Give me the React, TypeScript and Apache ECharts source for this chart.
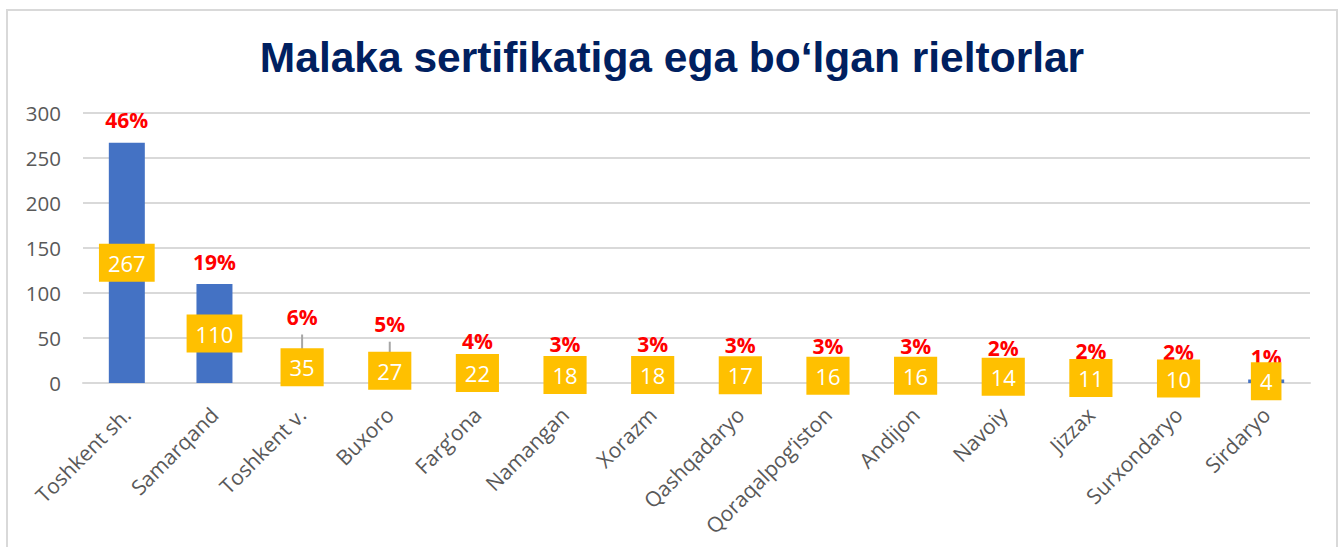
import React, { useEffect, useRef } from "react";
import * as echarts from "echarts";

const TITLE = "Malaka sertifikatiga ega bo‘lgan rieltorlar";
const categories = [
  "Toshkent sh.",
  "Samarqand",
  "Toshkent v.",
  "Buxoro",
  "Farg‘ona",
  "Namangan",
  "Xorazm",
  "Qashqadaryo",
  "Qoraqalpog‘iston",
  "Andijon",
  "Navoiy",
  "Jizzax",
  "Surxondaryo",
  "Sirdaryo",
];
const values = [267, 110, 35, 27, 22, 18, 18, 17, 16, 16, 14, 11, 10, 4];
const percents = ["46%", "19%", "6%", "5%", "4%", "3%", "3%", "3%", "3%", "3%", "2%", "2%", "2%", "1%"];
const leaderIndices = [2, 3];
const yTicks = { min: 0, max: 300, interval: 50 };

const FONT = "'Open Sans', 'Noto Sans', sans-serif";

export default function App() {
  const ref = useRef<HTMLDivElement>(null);
  useEffect(() => {
    if (!ref.current) return;
    const chart = echarts.init(ref.current, null, { renderer: "svg" });
    const pctData = values.map((v, i) => ({
      value: v,
      label: { distance: leaderIndices.includes(i) ? 24 : 12 },
    }));
    chart.setOption({
      animation: false,
      backgroundColor: "#ffffff",
      title: {
        text: TITLE,
        left: "center",
        top: 31,
        textStyle: {
          fontFamily: "'Liberation Sans', Arial, sans-serif",
          fontWeight: "bold",
          fontSize: 42.5,
          color: "#002060",
        },
      },
      graphic: [
        {
          type: "rect",
          shape: { x: 7, y: 10, width: 1330, height: 560 },
          style: { fill: "none", stroke: "#d9d9d9", lineWidth: 2 },
          silent: true,
        },
      ],
      grid: { left: 83, right: 34, top: 113, bottom: 164, containLabel: false },
      xAxis: {
        type: "category",
        data: categories,
        axisLine: { lineStyle: { color: "#d9d9d9", width: 2 } },
        axisTick: { show: false },
        axisLabel: {
          rotate: 45,
          interval: 0,
          margin: 28,
          color: "#595959",
          fontSize: 21,
          fontFamily: FONT,
        },
      },
      yAxis: {
        type: "value",
        min: yTicks.min,
        max: yTicks.max,
        interval: yTicks.interval,
        axisLine: { show: false },
        axisTick: { show: false },
        splitLine: { lineStyle: { color: "#d9d9d9", width: 2 } },
        axisLabel: {
          margin: 22,
          color: "#595959",
          fontSize: 20.5,
          fontFamily: FONT,
        },
      },
      series: [
        {
          type: "bar",
          data: pctData,
          barWidth: 36,
          itemStyle: { color: "#4472C4" },
          label: {
            show: true,
            position: "top",
            formatter: (p: any) => percents[p.dataIndex],
            color: "#FF0000",
            fontWeight: "bold",
            fontSize: 21,
            fontFamily: FONT,
          },
          z: 2,
        },
        {
          type: "bar",
          data: values,
          barWidth: 36,
          barGap: "-100%",
          itemStyle: { color: "rgba(0,0,0,0)" },
          label: {
            show: true,
            position: "inside",
            formatter: "{c}",
            color: "#ffffff",
            fontSize: 22,
            fontFamily: FONT,
            backgroundColor: "#FFC000",
            padding: [7, 9, 7, 9],
            lineHeight: 24,
          },
          z: 3,
        },
        {
          type: "custom",
          data: leaderIndices.map((i) => [i, values[i]]),
          renderItem: (_params: any, api: any) => {
            const p = api.coord([api.value(0), api.value(1)]);
            return {
              type: "line",
              shape: { x1: p[0], y1: p[1], x2: p[0], y2: p[1] - 17 },
              style: { stroke: "#a6a6a6", lineWidth: 2 },
            };
          },
          z: 1,
        },
      ],
    });
    return () => chart.dispose();
  }, []);
  return (
    <div
      ref={ref}
      style={{ position: "absolute", left: 0, top: 0, width: 1344, height: 547 }}
    />
  );
}
